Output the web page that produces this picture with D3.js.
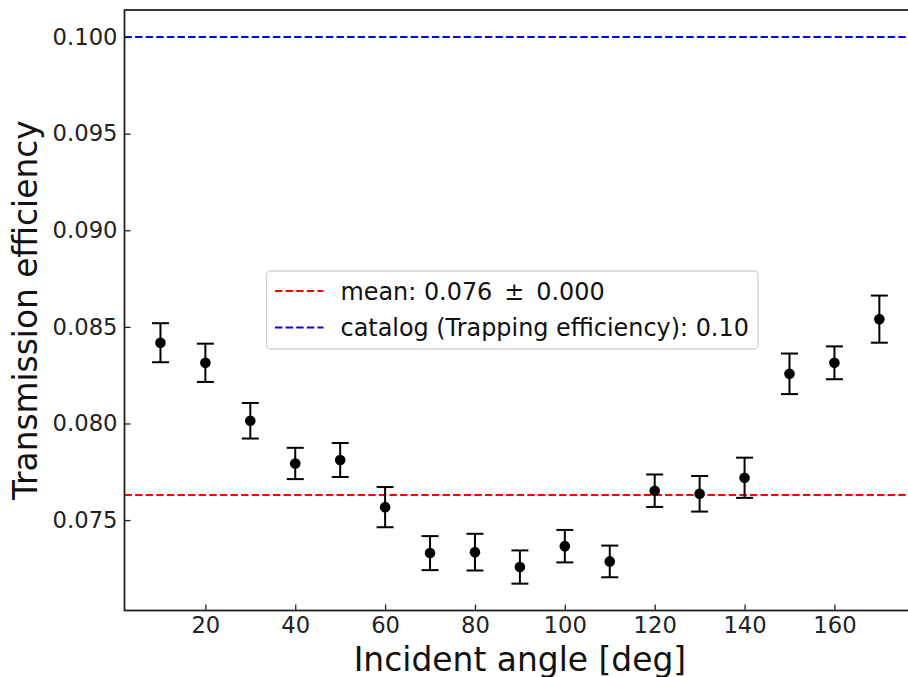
<!DOCTYPE html>
<html lang="en">

<head>
  <meta charset="UTF-8">
  <script src="https://d3js.org/d3.v7.min.js"></script>
  <title>Transmission efficiency vs incident angle</title>
  <style>
    body { margin: 0; background: white; }
    svg { display: block; font-family: 'DejaVu Sans', sans-serif; }
  </style>
</head>

<body>
  <svg width="908" height="677"></svg>

  <script>
    // data
    const angles = [10, 20, 30, 40, 50, 60, 70, 80, 90, 100, 110, 120, 130, 140, 150, 160, 170]
    const efficiency = [0.08418, 0.08314, 0.08014, 0.07793, 0.07811, 0.07567, 0.07329, 0.07334, 0.07257,
      0.07365, 0.07286, 0.07652, 0.07636, 0.07719, 0.08257, 0.08314, 0.08540]
    const errors = [0.00101, 0.00099, 0.00092, 0.00081, 0.00088, 0.00104, 0.00088, 0.00095, 0.00086,
      0.00084, 0.00082, 0.00084, 0.00092, 0.00104, 0.00105, 0.00085, 0.00122]
    const meanValue = 0.0763
    const catalogValue = 0.100
    const xTicks = [20, 40, 60, 80, 100, 120, 140, 160]
    const yTicks = [0.075, 0.080, 0.085, 0.090, 0.095, 0.100]
    const legendLabels = ['mean: 0.076\u2002\u00b1\u20020.000', 'catalog (Trapping efficiency): 0.10']

    const MEAN_COLOR = 'red'
    const CATALOG_COLOR = 'blue'
    const SPINE_COLOR = '#222'
    const DASH = '7.4,3.2'

    const svg = d3.select('svg')

    // axes box (right spine falls outside the picture)
    const plotLeft = 124.5, plotRight = 915.3, plotTop = 10, plotBottom = 610.5

    const x = d3.scaleLinear().domain([2, 178]).range([plotLeft, plotRight])
    const y = d3.scaleLinear().domain([0.07032, 0.1014]).range([plotBottom, plotTop])

    const points = angles.map((a, i) => ({ angle: a, value: efficiency[i], err: errors[i] }))

    // reference lines
    const refs = [
      { value: catalogValue, color: CATALOG_COLOR },
      { value: meanValue, color: MEAN_COLOR }
    ]
    svg.selectAll('.ref')
      .data(refs)
      .enter().append('line')
      .attr('class', 'ref')
      .attr('x1', plotLeft).attr('x2', plotRight)
      .attr('y1', (d) => y(d.value)).attr('y2', (d) => y(d.value))
      .attr('stroke', (d) => d.color)
      .attr('stroke-width', 2)
      .attr('stroke-dasharray', DASH)

    // error bars
    const bars = svg.append('g').attr('stroke', 'black').attr('stroke-width', 2)
    points.forEach((d) => {
      const cx = x(d.angle)
      bars.append('line')
        .attr('x1', cx).attr('x2', cx)
        .attr('y1', y(d.value - d.err)).attr('y2', y(d.value + d.err))
      ;[d.value - d.err, d.value + d.err].forEach((v) => {
        bars.append('line')
          .attr('x1', cx - 8.5).attr('x2', cx + 8.5)
          .attr('y1', y(v)).attr('y2', y(v))
      })
    })

    svg.append('g').selectAll('circle')
      .data(points)
      .enter().append('circle')
      .attr('cx', (d) => x(d.angle))
      .attr('cy', (d) => y(d.value))
      .attr('r', 5.3)
      .attr('fill', 'black')

    // axes, ticks pointing inward
    const xAxis = svg.append('g')
      .attr('transform', `translate(0,${plotBottom})`)
      .call(d3.axisBottom(x).tickValues(xTicks).tickSizeInner(-6).tickSizeOuter(0).tickPadding(6.5))
    const yAxis = svg.append('g')
      .attr('transform', `translate(${plotLeft},0)`)
      .call(d3.axisLeft(y).tickValues(yTicks).tickFormat(d3.format('.3f')).tickSizeInner(-6).tickSizeOuter(0).tickPadding(7))

    ;[xAxis, yAxis].forEach((g) => {
      g.select('.domain').remove()
      g.selectAll('.tick line').attr('stroke', SPINE_COLOR).attr('stroke-width', 1.3)
      g.selectAll('.tick text')
        .attr('fill', '#222')
        .style('font-size', '22.7px')
        .style('font-family', 'DejaVu Sans, sans-serif')
    })

    // spines
    svg.append('rect')
      .attr('x', plotLeft).attr('y', plotTop)
      .attr('width', plotRight - plotLeft).attr('height', plotBottom - plotTop)
      .attr('fill', 'none')
      .attr('stroke', SPINE_COLOR)
      .attr('stroke-width', 1.8)

    // axis labels
    svg.append('text')
      .attr('x', (plotLeft + plotRight) / 2).attr('y', 670.5)
      .attr('text-anchor', 'middle')
      .attr('fill', '#111')
      .style('font-size', '32.9px')
      .text('Incident angle [deg]')

    svg.append('text')
      .attr('transform', `translate(37,${(plotTop + plotBottom) / 2}) rotate(-90)`)
      .attr('text-anchor', 'middle')
      .attr('fill', '#111')
      .style('font-size', '32.8px')
      .text('Transmission efficiency')

    // legend
    const legend = svg.append('g').attr('transform', 'translate(266.5,271)')
    legend.append('rect')
      .attr('width', 491.5).attr('height', 78)
      .attr('rx', 4)
      .attr('fill', 'white').attr('fill-opacity', 0.8)
      .attr('stroke', '#d4d4d4').attr('stroke-width', 1.3)

    const legendColors = [MEAN_COLOR, CATALOG_COLOR]
    legendLabels.forEach((label, i) => {
      const ly = 20 + i * 36.5
      legend.append('line')
        .attr('x1', 8.5).attr('x2', 57)
        .attr('y1', ly).attr('y2', ly)
        .attr('stroke', legendColors[i])
        .attr('stroke-width', 2)
        .attr('stroke-dasharray', DASH)
      legend.append('text')
        .attr('x', 74).attr('y', ly)
        .attr('dy', '0.36em')
        .attr('fill', '#111')
        .style('font-size', '23.9px')
        .text(label)
    })
  </script>
</body>

</html>
